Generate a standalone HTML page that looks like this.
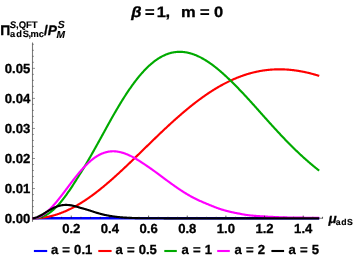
<!DOCTYPE html>
<html><head><meta charset="utf-8"><title>plot</title>
<style>
html,body{margin:0;padding:0;background:#fff;}
body{width:354px;height:259px;overflow:hidden;font-family:"Liberation Sans",sans-serif;}
svg{display:block;will-change:transform;}
text{text-rendering:geometricPrecision;}
</style></head><body>
<svg width="354" height="259" viewBox="0 0 354 259">
<rect width="354" height="259" fill="#ffffff"/>
<g stroke="#7a7a7a" stroke-width="1.1" fill="none">
<line x1="32.5" y1="42.5" x2="32.5" y2="221.8"/>
<line x1="32.5" y1="218.3" x2="323" y2="218.3"/>
</g>
<g stroke="#3a3a3a" stroke-width="0.55" fill="none">
<line x1="32.5" y1="212.59" x2="33.90" y2="212.59"/>
<line x1="32.5" y1="206.58" x2="33.90" y2="206.58"/>
<line x1="32.5" y1="200.57" x2="33.90" y2="200.57"/>
<line x1="32.5" y1="194.56" x2="33.90" y2="194.56"/>
<line x1="32.5" y1="188.55" x2="35.00" y2="188.55"/>
<line x1="32.5" y1="182.54" x2="33.90" y2="182.54"/>
<line x1="32.5" y1="176.53" x2="33.90" y2="176.53"/>
<line x1="32.5" y1="170.52" x2="33.90" y2="170.52"/>
<line x1="32.5" y1="164.51" x2="33.90" y2="164.51"/>
<line x1="32.5" y1="158.50" x2="35.00" y2="158.50"/>
<line x1="32.5" y1="152.49" x2="33.90" y2="152.49"/>
<line x1="32.5" y1="146.48" x2="33.90" y2="146.48"/>
<line x1="32.5" y1="140.47" x2="33.90" y2="140.47"/>
<line x1="32.5" y1="134.46" x2="33.90" y2="134.46"/>
<line x1="32.5" y1="128.45" x2="35.00" y2="128.45"/>
<line x1="32.5" y1="122.44" x2="33.90" y2="122.44"/>
<line x1="32.5" y1="116.43" x2="33.90" y2="116.43"/>
<line x1="32.5" y1="110.42" x2="33.90" y2="110.42"/>
<line x1="32.5" y1="104.41" x2="33.90" y2="104.41"/>
<line x1="32.5" y1="98.40" x2="35.00" y2="98.40"/>
<line x1="32.5" y1="92.39" x2="33.90" y2="92.39"/>
<line x1="32.5" y1="86.38" x2="33.90" y2="86.38"/>
<line x1="32.5" y1="80.37" x2="33.90" y2="80.37"/>
<line x1="32.5" y1="74.36" x2="33.90" y2="74.36"/>
<line x1="32.5" y1="68.35" x2="35.00" y2="68.35"/>
<line x1="32.5" y1="62.34" x2="33.90" y2="62.34"/>
<line x1="32.5" y1="56.33" x2="33.90" y2="56.33"/>
<line x1="32.5" y1="50.32" x2="33.90" y2="50.32"/>
<line x1="32.5" y1="44.31" x2="33.90" y2="44.31"/>
</g>
<path d="M32.50,218.30L319.20,218.30" stroke="#0000ff" stroke-width="2.6" fill="none" stroke-linejoin="round"/>
<path d="M32.5,218.30L33.0,218.30L33.5,218.29L34.0,218.29L34.5,218.28L35.0,218.27L35.5,218.25L36.0,218.23L36.5,218.21L37.0,218.18L37.5,218.15L38.0,218.12L38.5,218.09L39.0,218.05L39.5,218.01L40.0,217.96L40.5,217.91L41.0,217.86L41.5,217.81L42.0,217.75L42.5,217.68L43.0,217.62L43.5,217.55L44.0,217.48L44.5,217.40L45.0,217.32L45.5,217.24L46.0,217.16L46.5,217.07L47.0,216.97L47.5,216.88L48.0,216.78L48.5,216.68L49.0,216.57L49.5,216.46L50.0,216.35L50.5,216.23L51.0,216.11L51.5,215.99L52.0,215.86L52.5,215.73L53.0,215.60L53.5,215.46L54.0,215.32L54.5,215.18L55.0,215.03L55.5,214.88L56.0,214.73L56.5,214.57L57.0,214.41L57.5,214.25L58.0,214.08L58.5,213.91L59.0,213.74L59.5,213.56L60.0,213.38L60.5,213.19L61.0,213.01L61.5,212.82L62.0,212.62L62.5,212.43L63.0,212.23L63.5,212.02L64.0,211.82L64.5,211.61L65.0,211.40L65.5,211.18L66.0,210.96L66.5,210.74L67.0,210.51L67.5,210.28L68.0,210.05L68.5,209.82L69.0,209.58L69.5,209.34L70.0,209.09L70.5,208.85L71.0,208.60L71.5,208.34L72.0,208.09L72.5,207.83L73.0,207.56L73.5,207.30L74.0,207.03L74.5,206.76L75.0,206.48L75.5,206.21L76.0,205.93L76.5,205.64L77.0,205.36L77.5,205.07L78.0,204.78L78.5,204.48L79.0,204.19L79.5,203.89L80.0,203.58L80.5,203.28L81.0,202.97L81.5,202.66L82.0,202.34L82.5,202.03L83.0,201.71L83.5,201.39L84.0,201.06L84.5,200.73L85.0,200.40L85.5,200.07L86.0,199.74L86.5,199.40L87.0,199.06L87.5,198.72L88.0,198.37L88.5,198.02L89.0,197.67L89.5,197.32L90.0,196.97L90.5,196.61L91.0,196.25L91.5,195.89L92.0,195.52L92.5,195.16L93.0,194.79L93.5,194.42L94.0,194.04L94.5,193.67L95.0,193.29L95.5,192.91L96.0,192.53L96.5,192.14L97.0,191.76L97.5,191.37L98.0,190.98L98.5,190.58L99.0,190.19L99.5,189.79L100.0,189.39L100.5,188.99L101.0,188.59L101.5,188.18L102.0,187.78L102.5,187.37L103.0,186.96L103.5,186.55L104.0,186.13L104.5,185.72L105.0,185.30L105.5,184.88L106.0,184.46L106.5,184.03L107.0,183.61L107.5,183.18L108.0,182.75L108.5,182.32L109.0,181.89L109.5,181.46L110.0,181.03L110.5,180.59L111.0,180.15L111.5,179.71L112.0,179.27L112.5,178.83L113.0,178.39L113.5,177.94L114.0,177.50L114.5,177.05L115.0,176.60L115.5,176.15L116.0,175.70L116.5,175.24L117.0,174.79L117.5,174.33L118.0,173.88L118.5,173.42L119.0,172.96L119.5,172.50L120.0,172.04L120.5,171.58L121.0,171.11L121.5,170.65L122.0,170.18L122.5,169.72L123.0,169.25L123.5,168.78L124.0,168.31L124.5,167.84L125.0,167.37L125.5,166.90L126.0,166.43L126.5,165.95L127.0,165.48L127.5,165.01L128.0,164.53L128.5,164.05L129.0,163.58L129.5,163.10L130.0,162.62L130.5,162.14L131.0,161.66L131.5,161.18L132.0,160.70L132.5,160.22L133.0,159.74L133.5,159.25L134.0,158.77L134.5,158.29L135.0,157.80L135.5,157.32L136.0,156.83L136.5,156.35L137.0,155.86L137.5,155.38L138.0,154.89L138.5,154.41L139.0,153.92L139.5,153.43L140.0,152.95L140.5,152.46L141.0,151.97L141.5,151.49L142.0,151.00L142.5,150.51L143.0,150.02L143.5,149.54L144.0,149.05L144.5,148.56L145.0,148.08L145.5,147.59L146.0,147.10L146.5,146.61L147.0,146.13L147.5,145.64L148.0,145.15L148.5,144.67L149.0,144.18L149.5,143.69L150.0,143.21L150.5,142.72L151.0,142.24L151.5,141.75L152.0,141.27L152.5,140.78L153.0,140.30L153.5,139.81L154.0,139.33L154.5,138.85L155.0,138.37L155.5,137.88L156.0,137.40L156.5,136.92L157.0,136.44L157.5,135.96L158.0,135.48L158.5,135.00L159.0,134.53L159.5,134.05L160.0,133.57L160.5,133.09L161.0,132.62L161.5,132.14L162.0,131.67L162.5,131.20L163.0,130.73L163.5,130.25L164.0,129.78L164.5,129.31L165.0,128.84L165.5,128.38L166.0,127.91L166.5,127.44L167.0,126.98L167.5,126.51L168.0,126.05L168.5,125.59L169.0,125.12L169.5,124.66L170.0,124.20L170.5,123.75L171.0,123.29L171.5,122.83L172.0,122.38L172.5,121.92L173.0,121.47L173.5,121.02L174.0,120.57L174.5,120.12L175.0,119.67L175.5,119.22L176.0,118.78L176.5,118.33L177.0,117.89L177.5,117.45L178.0,117.00L178.5,116.57L179.0,116.13L179.5,115.69L180.0,115.26L180.5,114.82L181.0,114.39L181.5,113.96L182.0,113.53L182.5,113.10L183.0,112.67L183.5,112.25L184.0,111.82L184.5,111.40L185.0,110.98L185.5,110.56L186.0,110.14L186.5,109.73L187.0,109.31L187.5,108.90L188.0,108.49L188.5,108.08L189.0,107.67L189.5,107.27L190.0,106.86L190.5,106.46L191.0,106.06L191.5,105.66L192.0,105.26L192.5,104.86L193.0,104.47L193.5,104.08L194.0,103.68L194.5,103.30L195.0,102.91L195.5,102.52L196.0,102.14L196.5,101.76L197.0,101.38L197.5,101.00L198.0,100.62L198.5,100.25L199.0,99.88L199.5,99.51L200.0,99.14L200.5,98.77L201.0,98.41L201.5,98.04L202.0,97.68L202.5,97.32L203.0,96.97L203.5,96.61L204.0,96.26L204.5,95.91L205.0,95.56L205.5,95.21L206.0,94.87L206.5,94.52L207.0,94.18L207.5,93.85L208.0,93.51L208.5,93.17L209.0,92.84L209.5,92.51L210.0,92.18L210.5,91.86L211.0,91.53L211.5,91.21L212.0,90.89L212.5,90.57L213.0,90.26L213.5,89.95L214.0,89.64L214.5,89.33L215.0,89.02L215.5,88.72L216.0,88.41L216.5,88.11L217.0,87.82L217.5,87.52L218.0,87.23L218.5,86.94L219.0,86.65L219.5,86.36L220.0,86.08L220.5,85.80L221.0,85.52L221.5,85.24L222.0,84.96L222.5,84.69L223.0,84.42L223.5,84.15L224.0,83.89L224.5,83.62L225.0,83.36L225.5,83.10L226.0,82.85L226.5,82.59L227.0,82.34L227.5,82.09L228.0,81.85L228.5,81.60L229.0,81.36L229.5,81.12L230.0,80.88L230.5,80.65L231.0,80.41L231.5,80.18L232.0,79.96L232.5,79.73L233.0,79.51L233.5,79.29L234.0,79.07L234.5,78.85L235.0,78.64L235.5,78.43L236.0,78.22L236.5,78.01L237.0,77.81L237.5,77.61L238.0,77.41L238.5,77.21L239.0,77.02L239.5,76.82L240.0,76.63L240.5,76.45L241.0,76.26L241.5,76.08L242.0,75.90L242.5,75.72L243.0,75.55L243.5,75.38L244.0,75.21L244.5,75.04L245.0,74.87L245.5,74.71L246.0,74.55L246.5,74.39L247.0,74.24L247.5,74.09L248.0,73.93L248.5,73.79L249.0,73.64L249.5,73.50L250.0,73.36L250.5,73.22L251.0,73.08L251.5,72.95L252.0,72.82L252.5,72.69L253.0,72.56L253.5,72.44L254.0,72.32L254.5,72.20L255.0,72.08L255.5,71.97L256.0,71.86L256.5,71.75L257.0,71.64L257.5,71.54L258.0,71.44L258.5,71.34L259.0,71.24L259.5,71.15L260.0,71.06L260.5,70.97L261.0,70.88L261.5,70.79L262.0,70.71L262.5,70.63L263.0,70.55L263.5,70.48L264.0,70.41L264.5,70.34L265.0,70.27L265.5,70.20L266.0,70.14L266.5,70.08L267.0,70.02L267.5,69.96L268.0,69.91L268.5,69.86L269.0,69.81L269.5,69.76L270.0,69.72L270.5,69.68L271.0,69.64L271.5,69.60L272.0,69.56L272.5,69.53L273.0,69.50L273.5,69.47L274.0,69.45L274.5,69.42L275.0,69.40L275.5,69.38L276.0,69.37L276.5,69.35L277.0,69.34L277.5,69.33L278.0,69.32L278.5,69.32L279.0,69.31L279.5,69.31L280.0,69.32L280.5,69.32L281.0,69.33L281.5,69.33L282.0,69.34L282.5,69.36L283.0,69.37L283.5,69.39L284.0,69.41L284.5,69.43L285.0,69.45L285.5,69.48L286.0,69.51L286.5,69.54L287.0,69.57L287.5,69.61L288.0,69.64L288.5,69.68L289.0,69.72L289.5,69.77L290.0,69.81L290.5,69.86L291.0,69.91L291.5,69.96L292.0,70.01L292.5,70.07L293.0,70.13L293.5,70.19L294.0,70.25L294.5,70.32L295.0,70.38L295.5,70.45L296.0,70.52L296.5,70.59L297.0,70.67L297.5,70.74L298.0,70.82L298.5,70.90L299.0,70.98L299.5,71.07L300.0,71.16L300.5,71.24L301.0,71.33L301.5,71.43L302.0,71.52L302.5,71.62L303.0,71.71L303.5,71.81L304.0,71.92L304.5,72.02L305.0,72.13L305.5,72.23L306.0,72.34L306.5,72.46L307.0,72.57L307.5,72.68L308.0,72.80L308.5,72.92L309.0,73.04L309.5,73.16L310.0,73.29L310.5,73.41L311.0,73.54L311.5,73.67L312.0,73.80L312.5,73.93L313.0,74.07L313.5,74.21L314.0,74.34L314.5,74.48L315.0,74.63L315.5,74.77L316.0,74.92L316.5,75.06L317.0,75.21L317.5,75.36L318.0,75.51L318.5,75.67L319.0,75.82L319.2,75.89" stroke="#ff0000" stroke-width="2.15" fill="none" stroke-linejoin="round"/>
<path d="M32.5,218.30L33.0,218.30L33.5,218.29L34.0,218.27L34.5,218.25L35.0,218.21L35.5,218.17L36.0,218.12L36.5,218.05L37.0,217.98L37.5,217.90L38.0,217.81L38.5,217.71L39.0,217.60L39.5,217.48L40.0,217.35L40.5,217.21L41.0,217.06L41.5,216.89L42.0,216.72L42.5,216.54L43.0,216.34L43.5,216.14L44.0,215.92L44.5,215.70L45.0,215.46L45.5,215.22L46.0,214.96L46.5,214.69L47.0,214.41L47.5,214.12L48.0,213.82L48.5,213.50L49.0,213.18L49.5,212.84L50.0,212.48L50.5,212.12L51.0,211.74L51.5,211.35L52.0,210.95L52.5,210.54L53.0,210.12L53.5,209.68L54.0,209.24L54.5,208.78L55.0,208.32L55.5,207.84L56.0,207.35L56.5,206.84L57.0,206.32L57.5,205.79L58.0,205.25L58.5,204.70L59.0,204.13L59.5,203.56L60.0,202.97L60.5,202.38L61.0,201.77L61.5,201.16L62.0,200.54L62.5,199.91L63.0,199.28L63.5,198.63L64.0,197.97L64.5,197.31L65.0,196.63L65.5,195.95L66.0,195.26L66.5,194.56L67.0,193.86L67.5,193.16L68.0,192.45L68.5,191.74L69.0,191.02L69.5,190.29L70.0,189.56L70.5,188.82L71.0,188.07L71.5,187.32L72.0,186.56L72.5,185.80L73.0,185.03L73.5,184.26L74.0,183.48L74.5,182.70L75.0,181.91L75.5,181.12L76.0,180.32L76.5,179.53L77.0,178.73L77.5,177.93L78.0,177.13L78.5,176.34L79.0,175.54L79.5,174.75L80.0,173.96L80.5,173.17L81.0,172.37L81.5,171.58L82.0,170.78L82.5,169.98L83.0,169.17L83.5,168.35L84.0,167.53L84.5,166.70L85.0,165.87L85.5,165.02L86.0,164.18L86.5,163.33L87.0,162.47L87.5,161.62L88.0,160.76L88.5,159.90L89.0,159.03L89.5,158.16L90.0,157.29L90.5,156.42L91.0,155.54L91.5,154.66L92.0,153.78L92.5,152.89L93.0,152.01L93.5,151.12L94.0,150.23L94.5,149.33L95.0,148.44L95.5,147.54L96.0,146.64L96.5,145.74L97.0,144.84L97.5,143.94L98.0,143.04L98.5,142.13L99.0,141.23L99.5,140.32L100.0,139.42L100.5,138.51L101.0,137.61L101.5,136.70L102.0,135.80L102.5,134.89L103.0,133.98L103.5,133.07L104.0,132.15L104.5,131.23L105.0,130.32L105.5,129.40L106.0,128.49L106.5,127.58L107.0,126.67L107.5,125.76L108.0,124.86L108.5,123.95L109.0,123.05L109.5,122.16L110.0,121.26L110.5,120.37L111.0,119.47L111.5,118.59L112.0,117.70L112.5,116.82L113.0,115.94L113.5,115.06L114.0,114.19L114.5,113.32L115.0,112.45L115.5,111.59L116.0,110.73L116.5,109.88L117.0,109.02L117.5,108.18L118.0,107.33L118.5,106.49L119.0,105.66L119.5,104.83L120.0,104.00L120.5,103.18L121.0,102.36L121.5,101.55L122.0,100.74L122.5,99.93L123.0,99.13L123.5,98.34L124.0,97.55L124.5,96.77L125.0,95.99L125.5,95.21L126.0,94.44L126.5,93.68L127.0,92.92L127.5,92.17L128.0,91.42L128.5,90.68L129.0,89.95L129.5,89.22L130.0,88.49L130.5,87.78L131.0,87.07L131.5,86.36L132.0,85.66L132.5,84.97L133.0,84.28L133.5,83.60L134.0,82.92L134.5,82.25L135.0,81.59L135.5,80.94L136.0,80.29L136.5,79.65L137.0,79.01L137.5,78.38L138.0,77.76L138.5,77.14L139.0,76.53L139.5,75.93L140.0,75.34L140.5,74.75L141.0,74.17L141.5,73.59L142.0,73.03L142.5,72.47L143.0,71.91L143.5,71.37L144.0,70.83L144.5,70.30L145.0,69.77L145.5,69.26L146.0,68.75L146.5,68.24L147.0,67.75L147.5,67.26L148.0,66.78L148.5,66.31L149.0,65.84L149.5,65.39L150.0,64.94L150.5,64.49L151.0,64.06L151.5,63.63L152.0,63.21L152.5,62.80L153.0,62.39L153.5,62.00L154.0,61.61L154.5,61.23L155.0,60.85L155.5,60.48L156.0,60.13L156.5,59.77L157.0,59.43L157.5,59.09L158.0,58.77L158.5,58.45L159.0,58.13L159.5,57.83L160.0,57.53L160.5,57.24L161.0,56.96L161.5,56.68L162.0,56.42L162.5,56.16L163.0,55.90L163.5,55.66L164.0,55.42L164.5,55.20L165.0,54.97L165.5,54.76L166.0,54.56L166.5,54.36L167.0,54.17L167.5,53.98L168.0,53.81L168.5,53.64L169.0,53.48L169.5,53.33L170.0,53.18L170.5,53.04L171.0,52.91L171.5,52.79L172.0,52.67L172.5,52.57L173.0,52.47L173.5,52.37L174.0,52.29L174.5,52.21L175.0,52.14L175.5,52.07L176.0,52.01L176.5,51.96L177.0,51.92L177.5,51.89L178.0,51.86L178.5,51.84L179.0,51.82L179.5,51.81L180.0,51.81L180.5,51.82L181.0,51.83L181.5,51.85L182.0,51.88L182.5,51.92L183.0,51.96L183.5,52.01L184.0,52.06L184.5,52.12L185.0,52.19L185.5,52.26L186.0,52.35L186.5,52.43L187.0,52.53L187.5,52.63L188.0,52.74L188.5,52.85L189.0,52.97L189.5,53.10L190.0,53.23L190.5,53.37L191.0,53.51L191.5,53.66L192.0,53.82L192.5,53.98L193.0,54.15L193.5,54.33L194.0,54.51L194.5,54.70L195.0,54.89L195.5,55.09L196.0,55.29L196.5,55.50L197.0,55.72L197.5,55.94L198.0,56.17L198.5,56.40L199.0,56.64L199.5,56.88L200.0,57.13L200.5,57.39L201.0,57.65L201.5,57.91L202.0,58.18L202.5,58.46L203.0,58.74L203.5,59.02L204.0,59.31L204.5,59.61L205.0,59.91L205.5,60.21L206.0,60.52L206.5,60.84L207.0,61.16L207.5,61.48L208.0,61.81L208.5,62.15L209.0,62.48L209.5,62.83L210.0,63.17L210.5,63.52L211.0,63.88L211.5,64.24L212.0,64.60L212.5,64.97L213.0,65.34L213.5,65.72L214.0,66.10L214.5,66.49L215.0,66.87L215.5,67.27L216.0,67.66L216.5,68.06L217.0,68.46L217.5,68.87L218.0,69.28L218.5,69.70L219.0,70.11L219.5,70.54L220.0,70.96L220.5,71.39L221.0,71.82L221.5,72.25L222.0,72.69L222.5,73.13L223.0,73.58L223.5,74.02L224.0,74.47L224.5,74.93L225.0,75.38L225.5,75.84L226.0,76.30L226.5,76.77L227.0,77.23L227.5,77.70L228.0,78.18L228.5,78.65L229.0,79.13L229.5,79.61L230.0,80.09L230.5,80.57L231.0,81.06L231.5,81.55L232.0,82.04L232.5,82.54L233.0,83.03L233.5,83.53L234.0,84.03L234.5,84.53L235.0,85.04L235.5,85.54L236.0,86.05L236.5,86.56L237.0,87.07L237.5,87.58L238.0,88.10L238.5,88.61L239.0,89.13L239.5,89.65L240.0,90.17L240.5,90.69L241.0,91.22L241.5,91.74L242.0,92.27L242.5,92.79L243.0,93.32L243.5,93.85L244.0,94.38L244.5,94.92L245.0,95.45L245.5,95.99L246.0,96.53L246.5,97.07L247.0,97.61L247.5,98.16L248.0,98.70L248.5,99.25L249.0,99.80L249.5,100.35L250.0,100.90L250.5,101.46L251.0,102.01L251.5,102.56L252.0,103.12L252.5,103.67L253.0,104.23L253.5,104.79L254.0,105.34L254.5,105.90L255.0,106.46L255.5,107.02L256.0,107.58L256.5,108.14L257.0,108.70L257.5,109.26L258.0,109.82L258.5,110.38L259.0,110.94L259.5,111.50L260.0,112.07L260.5,112.63L261.0,113.19L261.5,113.75L262.0,114.31L262.5,114.87L263.0,115.43L263.5,115.99L264.0,116.55L264.5,117.11L265.0,117.67L265.5,118.23L266.0,118.79L266.5,119.34L267.0,119.90L267.5,120.46L268.0,121.01L268.5,121.57L269.0,122.12L269.5,122.68L270.0,123.23L270.5,123.79L271.0,124.34L271.5,124.89L272.0,125.44L272.5,125.99L273.0,126.54L273.5,127.09L274.0,127.63L274.5,128.18L275.0,128.72L275.5,129.27L276.0,129.81L276.5,130.35L277.0,130.89L277.5,131.43L278.0,131.97L278.5,132.51L279.0,133.04L279.5,133.58L280.0,134.11L280.5,134.65L281.0,135.18L281.5,135.71L282.0,136.23L282.5,136.76L283.0,137.29L283.5,137.81L284.0,138.33L284.5,138.86L285.0,139.38L285.5,139.89L286.0,140.41L286.5,140.93L287.0,141.44L287.5,141.95L288.0,142.46L288.5,142.97L289.0,143.48L289.5,143.99L290.0,144.49L290.5,144.99L291.0,145.49L291.5,145.99L292.0,146.49L292.5,146.99L293.0,147.48L293.5,147.97L294.0,148.46L294.5,148.95L295.0,149.44L295.5,149.92L296.0,150.41L296.5,150.89L297.0,151.37L297.5,151.84L298.0,152.32L298.5,152.79L299.0,153.27L299.5,153.74L300.0,154.20L300.5,154.67L301.0,155.14L301.5,155.60L302.0,156.06L302.5,156.52L303.0,156.97L303.5,157.43L304.0,157.88L304.5,158.33L305.0,158.78L305.5,159.23L306.0,159.67L306.5,160.11L307.0,160.55L307.5,160.99L308.0,161.43L308.5,161.86L309.0,162.29L309.5,162.72L310.0,163.15L310.5,163.58L311.0,164.00L311.5,164.42L312.0,164.84L312.5,165.26L313.0,165.68L313.5,166.09L314.0,166.50L314.5,166.91L315.0,167.32L315.5,167.72L316.0,168.13L316.5,168.53L317.0,168.92L317.5,169.32L318.0,169.72L318.5,170.11L319.0,170.50L319.2,170.65" stroke="#00aa00" stroke-width="2.15" fill="none" stroke-linejoin="round"/>
<path d="M32.5,218.30L33.0,218.29L33.5,218.27L34.0,218.23L34.5,218.17L35.0,218.10L35.5,218.01L36.0,217.90L36.5,217.78L37.0,217.64L37.5,217.49L38.0,217.32L38.5,217.13L39.0,216.93L39.5,216.72L40.0,216.49L40.5,216.24L41.0,215.98L41.5,215.71L42.0,215.42L42.5,215.12L43.0,214.80L43.5,214.47L44.0,214.12L44.5,213.77L45.0,213.39L45.5,213.01L46.0,212.61L46.5,212.21L47.0,211.79L47.5,211.35L48.0,210.91L48.5,210.45L49.0,209.99L49.5,209.51L50.0,209.02L50.5,208.53L51.0,208.02L51.5,207.50L52.0,206.98L52.5,206.44L53.0,205.90L53.5,205.34L54.0,204.78L54.5,204.21L55.0,203.64L55.5,203.06L56.0,202.47L56.5,201.87L57.0,201.27L57.5,200.66L58.0,200.04L58.5,199.42L59.0,198.79L59.5,198.16L60.0,197.53L60.5,196.89L61.0,196.25L61.5,195.60L62.0,194.95L62.5,194.30L63.0,193.64L63.5,192.98L64.0,192.32L64.5,191.66L65.0,191.00L65.5,190.33L66.0,189.67L66.5,189.00L67.0,188.33L67.5,187.67L68.0,187.00L68.5,186.33L69.0,185.67L69.5,185.00L70.0,184.34L70.5,183.68L71.0,183.02L71.5,182.36L72.0,181.70L72.5,181.05L73.0,180.40L73.5,179.75L74.0,179.10L74.5,178.46L75.0,177.83L75.5,177.19L76.0,176.56L76.5,175.94L77.0,175.32L77.5,174.70L78.0,174.09L78.5,173.48L79.0,172.88L79.5,172.29L80.0,171.70L80.5,171.12L81.0,170.54L81.5,169.97L82.0,169.41L82.5,168.85L83.0,168.30L83.5,167.76L84.0,167.22L84.5,166.69L85.0,166.17L85.5,165.65L86.0,165.15L86.5,164.65L87.0,164.16L87.5,163.68L88.0,163.20L88.5,162.74L89.0,162.28L89.5,161.83L90.0,161.39L90.5,160.96L91.0,160.53L91.5,160.12L92.0,159.72L92.5,159.32L93.0,158.93L93.5,158.56L94.0,158.19L94.5,157.83L95.0,157.48L95.5,157.14L96.0,156.81L96.5,156.49L97.0,156.17L97.5,155.87L98.0,155.58L98.5,155.30L99.0,155.02L99.5,154.76L100.0,154.51L100.5,154.26L101.0,154.03L101.5,153.81L102.0,153.59L102.5,153.39L103.0,153.19L103.5,153.00L104.0,152.83L104.5,152.66L105.0,152.51L105.5,152.36L106.0,152.22L106.5,152.09L107.0,151.98L107.5,151.87L108.0,151.77L108.5,151.68L109.0,151.60L109.5,151.53L110.0,151.47L110.5,151.41L111.0,151.37L111.5,151.34L112.0,151.31L112.5,151.30L113.0,151.29L113.5,151.29L114.0,151.30L114.5,151.32L115.0,151.35L115.5,151.38L116.0,151.43L116.5,151.48L117.0,151.54L117.5,151.61L118.0,151.69L118.5,151.78L119.0,151.87L119.5,151.97L120.0,152.08L120.5,152.20L121.0,152.32L121.5,152.46L122.0,152.59L122.5,152.74L123.0,152.89L123.5,153.05L124.0,153.21L124.5,153.38L125.0,153.56L125.5,153.74L126.0,153.93L126.5,154.13L127.0,154.33L127.5,154.54L128.0,154.75L128.5,154.97L129.0,155.20L129.5,155.43L130.0,155.66L130.5,155.90L131.0,156.15L131.5,156.40L132.0,156.66L132.5,156.92L133.0,157.18L133.5,157.45L134.0,157.73L134.5,158.01L135.0,158.29L135.5,158.58L136.0,158.87L136.5,159.17L137.0,159.47L137.5,159.77L138.0,160.08L138.5,160.39L139.0,160.71L139.5,161.03L140.0,161.35L140.5,161.67L141.0,162.00L141.5,162.32L142.0,162.65L142.5,162.98L143.0,163.31L143.5,163.64L144.0,163.97L144.5,164.30L145.0,164.64L145.5,164.97L146.0,165.31L146.5,165.65L147.0,165.99L147.5,166.33L148.0,166.67L148.5,167.01L149.0,167.36L149.5,167.71L150.0,168.05L150.5,168.40L151.0,168.75L151.5,169.11L152.0,169.46L152.5,169.82L153.0,170.17L153.5,170.53L154.0,170.89L154.5,171.26L155.0,171.62L155.5,171.99L156.0,172.36L156.5,172.73L157.0,173.10L157.5,173.47L158.0,173.84L158.5,174.22L159.0,174.59L159.5,174.96L160.0,175.33L160.5,175.71L161.0,176.08L161.5,176.45L162.0,176.82L162.5,177.19L163.0,177.56L163.5,177.93L164.0,178.30L164.5,178.67L165.0,179.04L165.5,179.40L166.0,179.77L166.5,180.14L167.0,180.51L167.5,180.87L168.0,181.24L168.5,181.60L169.0,181.97L169.5,182.33L170.0,182.69L170.5,183.06L171.0,183.42L171.5,183.78L172.0,184.14L172.5,184.50L173.0,184.86L173.5,185.22L174.0,185.58L174.5,185.93L175.0,186.29L175.5,186.64L176.0,186.99L176.5,187.34L177.0,187.68L177.5,188.02L178.0,188.37L178.5,188.71L179.0,189.04L179.5,189.38L180.0,189.71L180.5,190.04L181.0,190.37L181.5,190.70L182.0,191.02L182.5,191.34L183.0,191.66L183.5,191.98L184.0,192.29L184.5,192.60L185.0,192.91L185.5,193.22L186.0,193.53L186.5,193.83L187.0,194.13L187.5,194.43L188.0,194.72L188.5,195.01L189.0,195.30L189.5,195.59L190.0,195.88L190.5,196.16L191.0,196.44L191.5,196.71L192.0,196.98L192.5,197.25L193.0,197.51L193.5,197.78L194.0,198.03L194.5,198.29L195.0,198.54L195.5,198.79L196.0,199.03L196.5,199.27L197.0,199.51L197.5,199.75L198.0,199.99L198.5,200.22L199.0,200.45L199.5,200.68L200.0,200.90L200.5,201.12L201.0,201.35L201.5,201.57L202.0,201.78L202.5,202.00L203.0,202.21L203.5,202.43L204.0,202.64L204.5,202.85L205.0,203.06L205.5,203.27L206.0,203.48L206.5,203.69L207.0,203.90L207.5,204.10L208.0,204.31L208.5,204.52L209.0,204.73L209.5,204.94L210.0,205.15L210.5,205.35L211.0,205.56L211.5,205.76L212.0,205.97L212.5,206.17L213.0,206.37L213.5,206.57L214.0,206.76L214.5,206.96L215.0,207.15L215.5,207.35L216.0,207.54L216.5,207.72L217.0,207.91L217.5,208.09L218.0,208.27L218.5,208.45L219.0,208.62L219.5,208.79L220.0,208.96L220.5,209.13L221.0,209.29L221.5,209.45L222.0,209.60L222.5,209.76L223.0,209.90L223.5,210.05L224.0,210.19L224.5,210.33L225.0,210.47L225.5,210.61L226.0,210.74L226.5,210.87L227.0,211.00L227.5,211.13L228.0,211.26L228.5,211.38L229.0,211.51L229.5,211.63L230.0,211.75L230.5,211.86L231.0,211.98L231.5,212.09L232.0,212.20L232.5,212.31L233.0,212.42L233.5,212.53L234.0,212.63L234.5,212.74L235.0,212.84L235.5,212.94L236.0,213.04L236.5,213.13L237.0,213.23L237.5,213.32L238.0,213.41L238.5,213.50L239.0,213.59L239.5,213.68L240.0,213.77L240.5,213.87L241.0,213.97L241.5,214.08L242.0,214.18L242.5,214.27L243.0,214.37L243.5,214.46L244.0,214.56L244.5,214.64L245.0,214.73L245.5,214.81L246.0,214.89L246.5,214.97L247.0,215.04L247.5,215.11L248.0,215.18L248.5,215.24L249.0,215.30L249.5,215.35L250.0,215.41L250.5,215.46L251.0,215.51L251.5,215.55L252.0,215.60L252.5,215.64L253.0,215.69L253.5,215.73L254.0,215.77L254.5,215.81L255.0,215.85L255.5,215.88L256.0,215.92L256.5,215.96L257.0,215.99L257.5,216.03L258.0,216.06L258.5,216.10L259.0,216.13L259.5,216.17L260.0,216.20L260.5,216.23L261.0,216.27L261.5,216.30L262.0,216.34L262.5,216.37L263.0,216.40L263.5,216.43L264.0,216.46L264.5,216.49L265.0,216.53L265.5,216.56L266.0,216.59L266.5,216.61L267.0,216.64L267.5,216.67L268.0,216.70L268.5,216.72L269.0,216.75L269.5,216.78L270.0,216.80L270.5,216.82L271.0,216.85L271.5,216.87L272.0,216.90L272.5,216.92L273.0,216.94L273.5,216.97L274.0,216.99L274.5,217.01L275.0,217.04L275.5,217.06L276.0,217.08L276.5,217.10L277.0,217.13L277.5,217.15L278.0,217.17L278.5,217.19L279.0,217.21L279.5,217.23L280.0,217.25L280.5,217.26L281.0,217.28L281.5,217.30L282.0,217.32L282.5,217.33L283.0,217.35L283.5,217.36L284.0,217.37L284.5,217.39L285.0,217.40L285.5,217.41L286.0,217.42L286.5,217.43L287.0,217.44L287.5,217.46L288.0,217.47L288.5,217.48L289.0,217.49L289.5,217.50L290.0,217.51L290.5,217.51L291.0,217.52L291.5,217.53L292.0,217.54L292.5,217.55L293.0,217.56L293.5,217.56L294.0,217.57L294.5,217.58L295.0,217.59L295.5,217.59L296.0,217.60L296.5,217.61L297.0,217.61L297.5,217.62L298.0,217.63L298.5,217.63L299.0,217.64L299.5,217.64L300.0,217.65L300.5,217.66L301.0,217.66L301.5,217.67L302.0,217.67L302.5,217.68L303.0,217.68L303.5,217.69L304.0,217.69L304.5,217.70L305.0,217.70L305.5,217.71L306.0,217.71L306.5,217.72L307.0,217.72L307.5,217.73L308.0,217.73L308.5,217.73L309.0,217.74L309.5,217.74L310.0,217.75L310.5,217.75L311.0,217.76L311.5,217.76L312.0,217.76L312.5,217.77L313.0,217.77L313.5,217.77L314.0,217.78L314.5,217.78L315.0,217.78L315.5,217.78L316.0,217.79L316.5,217.79L317.0,217.79L317.5,217.79L318.0,217.80L318.5,217.80L319.0,217.80L319.2,217.80" stroke="#ff00ff" stroke-width="2.15" fill="none" stroke-linejoin="round"/>
<path d="M32.5,218.30L33.0,218.27L33.5,218.22L34.0,218.13L34.5,218.03L35.0,217.90L35.5,217.76L36.0,217.59L36.5,217.42L37.0,217.23L37.5,217.02L38.0,216.80L38.5,216.57L39.0,216.33L39.5,216.08L40.0,215.82L40.5,215.55L41.0,215.27L41.5,214.99L42.0,214.70L42.5,214.41L43.0,214.11L43.5,213.81L44.0,213.50L44.5,213.19L45.0,212.88L45.5,212.57L46.0,212.27L46.5,211.96L47.0,211.65L47.5,211.34L48.0,211.04L48.5,210.74L49.0,210.44L49.5,210.15L50.0,209.86L50.5,209.57L51.0,209.29L51.5,209.02L52.0,208.76L52.5,208.50L53.0,208.24L53.5,208.00L54.0,207.76L54.5,207.53L55.0,207.31L55.5,207.10L56.0,206.90L56.5,206.71L57.0,206.52L57.5,206.35L58.0,206.19L58.5,206.03L59.0,205.89L59.5,205.75L60.0,205.63L60.5,205.51L61.0,205.41L61.5,205.31L62.0,205.23L62.5,205.16L63.0,205.09L63.5,205.04L64.0,204.99L64.5,204.96L65.0,204.94L65.5,204.92L66.0,204.92L66.5,204.92L67.0,204.93L67.5,204.95L68.0,204.99L68.5,205.02L69.0,205.07L69.5,205.13L70.0,205.19L70.5,205.26L71.0,205.34L71.5,205.43L72.0,205.52L72.5,205.62L73.0,205.72L73.5,205.84L74.0,205.95L74.5,206.08L75.0,206.21L75.5,206.34L76.0,206.48L76.5,206.62L77.0,206.77L77.5,206.92L78.0,207.07L78.5,207.23L79.0,207.39L79.5,207.56L80.0,207.72L80.5,207.85L81.0,207.98L81.5,208.11L82.0,208.24L82.5,208.37L83.0,208.51L83.5,208.65L84.0,208.79L84.5,208.93L85.0,209.07L85.5,209.22L86.0,209.37L86.5,209.52L87.0,209.67L87.5,209.82L88.0,209.97L88.5,210.13L89.0,210.29L89.5,210.44L90.0,210.60L90.5,210.77L91.0,210.93L91.5,211.09L92.0,211.26L92.5,211.43L93.0,211.59L93.5,211.76L94.0,211.92L94.5,212.08L95.0,212.24L95.5,212.40L96.0,212.55L96.5,212.71L97.0,212.86L97.5,213.01L98.0,213.15L98.5,213.30L99.0,213.44L99.5,213.58L100.0,213.72L100.5,213.85L101.0,213.99L101.5,214.12L102.0,214.24L102.5,214.37L103.0,214.49L103.5,214.61L104.0,214.73L104.5,214.84L105.0,214.95L105.5,215.06L106.0,215.16L106.5,215.27L107.0,215.37L107.5,215.46L108.0,215.56L108.5,215.65L109.0,215.74L109.5,215.83L110.0,215.91L110.5,216.00L111.0,216.08L111.5,216.16L112.0,216.23L112.5,216.31L113.0,216.38L113.5,216.45L114.0,216.52L114.5,216.59L115.0,216.65L115.5,216.71L116.0,216.78L116.5,216.83L117.0,216.89L117.5,216.95L118.0,217.00L118.5,217.05L119.0,217.11L119.5,217.15L120.0,217.20L120.5,217.25L121.0,217.29L121.5,217.34L122.0,217.38L122.5,217.42L123.0,217.46L123.5,217.49L124.0,217.53L124.5,217.56L125.0,217.60L125.5,217.63L126.0,217.66L126.5,217.69L127.0,217.72L127.5,217.74L128.0,217.77L128.5,217.80L129.0,217.82L129.5,217.85L130.0,217.87L130.5,217.89L131.0,217.91L131.5,217.93L132.0,217.96L132.5,217.97L133.0,217.99L133.5,218.01L134.0,218.03L134.5,218.05L135.0,218.06L135.5,218.08L136.0,218.09L136.5,218.11L137.0,218.12L137.5,218.14L138.0,218.15L138.5,218.16L139.0,218.18L139.5,218.19L140.0,218.20L140.5,218.21L141.0,218.21L141.5,218.22L142.0,218.22L142.5,218.23L143.0,218.23L143.5,218.23L144.0,218.24L144.5,218.24L145.0,218.24L145.5,218.25L146.0,218.25L146.5,218.25L147.0,218.26L147.5,218.26L148.0,218.26L148.5,218.26L149.0,218.27L149.5,218.27L150.0,218.27L150.5,218.27L151.0,218.27L151.5,218.28L152.0,218.28L152.5,218.28L153.0,218.28L153.5,218.28L154.0,218.28L154.5,218.28L155.0,218.28L155.5,218.29L156.0,218.29L156.5,218.29L157.0,218.29L157.5,218.29L158.0,218.29L158.5,218.29L159.0,218.29L159.5,218.29L160.0,218.29L160.5,218.29L161.0,218.29L161.5,218.29L162.0,218.29L162.5,218.29L163.0,218.29L163.5,218.30L164.0,218.30L164.5,218.30L165.0,218.30L165.5,218.30L166.0,218.30L166.5,218.30L167.0,218.30L167.5,218.30L168.0,218.30L168.5,218.30L169.0,218.30L169.5,218.30L170.0,218.30L170.5,218.30L171.0,218.30L171.5,218.30L172.0,218.30L172.5,218.30L173.0,218.30L173.5,218.30L174.0,218.30L174.5,218.30L175.0,218.30L175.5,218.30L176.0,218.30L176.5,218.30L177.0,218.30L177.5,218.30L178.0,218.30L178.5,218.30L179.0,218.30L179.5,218.30L180.0,218.30L180.5,218.30L181.0,218.30L181.5,218.30L182.0,218.30L182.5,218.30L183.0,218.30L183.5,218.30L184.0,218.30L184.5,218.30L185.0,218.30L185.5,218.30L186.0,218.30L186.5,218.30L187.0,218.30L187.5,218.30L188.0,218.30L188.5,218.30L189.0,218.30L189.5,218.30L190.0,218.30L190.5,218.30L191.0,218.30L191.5,218.30L192.0,218.30L192.5,218.30L193.0,218.30L193.5,218.30L194.0,218.30L194.5,218.30L195.0,218.30L195.5,218.30L196.0,218.30L196.5,218.30L197.0,218.30L197.5,218.30L198.0,218.30L198.5,218.30L199.0,218.30L199.5,218.30L200.0,218.30L200.5,218.30L201.0,218.30L201.5,218.30L202.0,218.30L202.5,218.30L203.0,218.30L203.5,218.30L204.0,218.30L204.5,218.30L205.0,218.30L205.5,218.30L206.0,218.30L206.5,218.30L207.0,218.30L207.5,218.30L208.0,218.30L208.5,218.30L209.0,218.30L209.5,218.30L210.0,218.30L210.5,218.30L211.0,218.30L211.5,218.30L212.0,218.30L212.5,218.30L213.0,218.30L213.5,218.30L214.0,218.30L214.5,218.30L215.0,218.30L215.5,218.30L216.0,218.30L216.5,218.30L217.0,218.30L217.5,218.30L218.0,218.30L218.5,218.30L219.0,218.30L219.5,218.30L220.0,218.30L220.5,218.30L221.0,218.30L221.5,218.30L222.0,218.30L222.5,218.30L223.0,218.30L223.5,218.30L224.0,218.30L224.5,218.30L225.0,218.30L225.5,218.30L226.0,218.30L226.5,218.30L227.0,218.30L227.5,218.30L228.0,218.30L228.5,218.30L229.0,218.30L229.5,218.30L230.0,218.30L230.5,218.30L231.0,218.30L231.5,218.30L232.0,218.30L232.5,218.30L233.0,218.30L233.5,218.30L234.0,218.30L234.5,218.30L235.0,218.30L235.5,218.30L236.0,218.30L236.5,218.30L237.0,218.30L237.5,218.30L238.0,218.30L238.5,218.30L239.0,218.30L239.5,218.30L240.0,218.30L240.5,218.30L241.0,218.30L241.5,218.30L242.0,218.30L242.5,218.30L243.0,218.30L243.5,218.30L244.0,218.30L244.5,218.30L245.0,218.30L245.5,218.30L246.0,218.30L246.5,218.30L247.0,218.30L247.5,218.30L248.0,218.30L248.5,218.30L249.0,218.30L249.5,218.30L250.0,218.30L250.5,218.30L251.0,218.30L251.5,218.30L252.0,218.30L252.5,218.30L253.0,218.30L253.5,218.30L254.0,218.30L254.5,218.30L255.0,218.30L255.5,218.30L256.0,218.30L256.5,218.30L257.0,218.30L257.5,218.30L258.0,218.30L258.5,218.30L259.0,218.30L259.5,218.30L260.0,218.30L260.5,218.30L261.0,218.30L261.5,218.30L262.0,218.30L262.5,218.30L263.0,218.30L263.5,218.30L264.0,218.30L264.5,218.30L265.0,218.30L265.5,218.30L266.0,218.30L266.5,218.30L267.0,218.30L267.5,218.30L268.0,218.30L268.5,218.30L269.0,218.30L269.5,218.30L270.0,218.30L270.5,218.30L271.0,218.30L271.5,218.30L272.0,218.30L272.5,218.30L273.0,218.30L273.5,218.30L274.0,218.30L274.5,218.30L275.0,218.30L275.5,218.30L276.0,218.30L276.5,218.30L277.0,218.30L277.5,218.30L278.0,218.30L278.5,218.30L279.0,218.30L279.5,218.30L280.0,218.30L280.5,218.30L281.0,218.30L281.5,218.30L282.0,218.30L282.5,218.30L283.0,218.30L283.5,218.30L284.0,218.30L284.5,218.30L285.0,218.30L285.5,218.30L286.0,218.30L286.5,218.30L287.0,218.30L287.5,218.30L288.0,218.30L288.5,218.30L289.0,218.30L289.5,218.30L290.0,218.30L290.5,218.30L291.0,218.30L291.5,218.30L292.0,218.30L292.5,218.30L293.0,218.30L293.5,218.30L294.0,218.30L294.5,218.30L295.0,218.30L295.5,218.30L296.0,218.30L296.5,218.30L297.0,218.30L297.5,218.30L298.0,218.30L298.5,218.30L299.0,218.30L299.5,218.30L300.0,218.30L300.5,218.30L301.0,218.30L301.5,218.30L302.0,218.30L302.5,218.30L303.0,218.30L303.5,218.30L304.0,218.30L304.5,218.30L305.0,218.30L305.5,218.30L306.0,218.30L306.5,218.30L307.0,218.30L307.5,218.30L308.0,218.30L308.5,218.30L309.0,218.30L309.5,218.30L310.0,218.30L310.5,218.30L311.0,218.30L311.5,218.30L312.0,218.30L312.5,218.30L313.0,218.30L313.5,218.30L314.0,218.30L314.5,218.30L315.0,218.30L315.5,218.30L316.0,218.30L316.5,218.30L317.0,218.30L317.5,218.30L318.0,218.30L318.5,218.30L319.0,218.30L319.2,218.30" stroke="#000000" stroke-width="2.15" fill="none" stroke-linejoin="round"/>
<g stroke="#1a1a1a" stroke-width="0.7" fill="none">
<line x1="42.27" y1="218.3" x2="42.27" y2="216.80"/>
<line x1="51.93" y1="218.3" x2="51.93" y2="216.80"/>
<line x1="61.60" y1="218.3" x2="61.60" y2="216.80"/>
<line x1="71.26" y1="218.3" x2="71.26" y2="215.60"/>
<line x1="80.93" y1="218.3" x2="80.93" y2="216.80"/>
<line x1="90.59" y1="218.3" x2="90.59" y2="216.80"/>
<line x1="100.26" y1="218.3" x2="100.26" y2="216.80"/>
<line x1="109.92" y1="218.3" x2="109.92" y2="215.60"/>
<line x1="119.59" y1="218.3" x2="119.59" y2="216.80"/>
<line x1="129.25" y1="218.3" x2="129.25" y2="216.80"/>
<line x1="138.92" y1="218.3" x2="138.92" y2="216.80"/>
<line x1="148.58" y1="218.3" x2="148.58" y2="215.60"/>
<line x1="158.25" y1="218.3" x2="158.25" y2="216.80"/>
<line x1="167.91" y1="218.3" x2="167.91" y2="216.80"/>
<line x1="177.58" y1="218.3" x2="177.58" y2="216.80"/>
<line x1="187.24" y1="218.3" x2="187.24" y2="215.60"/>
<line x1="196.91" y1="218.3" x2="196.91" y2="216.80"/>
<line x1="206.57" y1="218.3" x2="206.57" y2="216.80"/>
<line x1="216.24" y1="218.3" x2="216.24" y2="216.80"/>
<line x1="225.90" y1="218.3" x2="225.90" y2="215.60"/>
<line x1="235.57" y1="218.3" x2="235.57" y2="216.80"/>
<line x1="245.23" y1="218.3" x2="245.23" y2="216.80"/>
<line x1="254.90" y1="218.3" x2="254.90" y2="216.80"/>
<line x1="264.56" y1="218.3" x2="264.56" y2="215.60"/>
<line x1="274.23" y1="218.3" x2="274.23" y2="216.80"/>
<line x1="283.89" y1="218.3" x2="283.89" y2="216.80"/>
<line x1="293.56" y1="218.3" x2="293.56" y2="216.80"/>
<line x1="303.22" y1="218.3" x2="303.22" y2="215.60"/>
<line x1="312.89" y1="218.3" x2="312.89" y2="216.80"/>
<line x1="322.55" y1="218.3" x2="322.55" y2="216.80"/>
</g>
<g font-family="Liberation Sans, sans-serif" font-weight="bold" font-size="13.1px" fill="#000" stroke="#000" stroke-width="0.3">
<text x="30.3" y="223.00" text-anchor="end">0.00</text>
<text x="30.3" y="192.95" text-anchor="end">0.01</text>
<text x="30.3" y="162.90" text-anchor="end">0.02</text>
<text x="30.3" y="132.85" text-anchor="end">0.03</text>
<text x="30.3" y="102.80" text-anchor="end">0.04</text>
<text x="30.3" y="72.75" text-anchor="end">0.05</text>
<text x="71.26" y="233.0" text-anchor="middle">0.2</text>
<text x="109.92" y="233.0" text-anchor="middle">0.4</text>
<text x="148.58" y="233.0" text-anchor="middle">0.6</text>
<text x="187.24" y="233.0" text-anchor="middle">0.8</text>
<text x="225.90" y="233.0" text-anchor="middle">1.0</text>
<text x="264.56" y="233.0" text-anchor="middle">1.2</text>
<text x="303.22" y="233.0" text-anchor="middle">1.4</text>
</g>
<g font-family="Liberation Sans, sans-serif" font-weight="bold" fill="#000" stroke="#000" stroke-width="0.3">
<g transform="translate(0,16.7) scale(1.1,1)"><text y="0" font-size="15px"><tspan x="119.4" font-style="italic">β</tspan><tspan x="131.8">=</tspan><tspan x="142.6">1</tspan><tspan x="150.5">,</tspan><tspan x="164.6">m</tspan><tspan x="181.8">=</tspan><tspan x="194.5">0</tspan></text></g>
<text x="0.2" y="35" font-size="13.8px">Π</text>
<text x="9.7" y="27.7" font-size="9.5px" stroke-width="0.15"><tspan font-style="italic">S</tspan>,QFT</text>
<text x="9.9" y="36.9" font-size="9.3px" stroke-width="0.15">a<tspan dx="1.2">d</tspan><tspan dx="0.8">S</tspan><tspan dx="-0.4">,</tspan><tspan dx="-0.6">m</tspan><tspan dx="-0.2">c</tspan></text>
<text x="43.9" y="35" font-size="13.8px">/<tspan font-style="italic">P</tspan></text>
<text x="57.8" y="28.0" font-size="10.4px" font-style="italic" stroke-width="0.15">S</text>
<text x="56.6" y="38.0" font-size="10.2px" font-style="italic" stroke-width="0.15">M</text>
<text x="328.5" y="222.8" font-size="13.5px" font-style="italic">μ</text>
<text x="335.8" y="225.2" font-size="8.7px" letter-spacing="0.55" stroke-width="0.15">adS</text>
</g>
<g font-family="Liberation Sans, sans-serif" font-weight="bold" font-size="13.1px" fill="#000" stroke="#000" stroke-width="0.3">
<line x1="33.9" y1="251.0" x2="47.199999999999996" y2="251.0" stroke="#0000ff" stroke-width="2.1"/>
<text x="51.0" y="253.7" word-spacing="0.45" stroke-width="0.3">a = 0.1</text>
<line x1="98.30000000000001" y1="251.0" x2="111.6" y2="251.0" stroke="#ff0000" stroke-width="2.1"/>
<text x="115.6" y="253.7" word-spacing="0.45" stroke-width="0.3">a = 0.5</text>
<line x1="164.3" y1="251.0" x2="176.8" y2="251.0" stroke="#00aa00" stroke-width="2.1"/>
<text x="181.6" y="253.7" word-spacing="0.45" stroke-width="0.3">a = 1</text>
<line x1="217.20000000000002" y1="251.0" x2="229.8" y2="251.0" stroke="#ff00ff" stroke-width="2.1"/>
<text x="234.6" y="253.7" word-spacing="0.45" stroke-width="0.3">a = 2</text>
<line x1="271.4" y1="251.0" x2="284.1" y2="251.0" stroke="#000000" stroke-width="2.1"/>
<text x="288.6" y="253.7" word-spacing="0.45" stroke-width="0.3">a = 5</text>
</g>
</svg>
</body></html>
